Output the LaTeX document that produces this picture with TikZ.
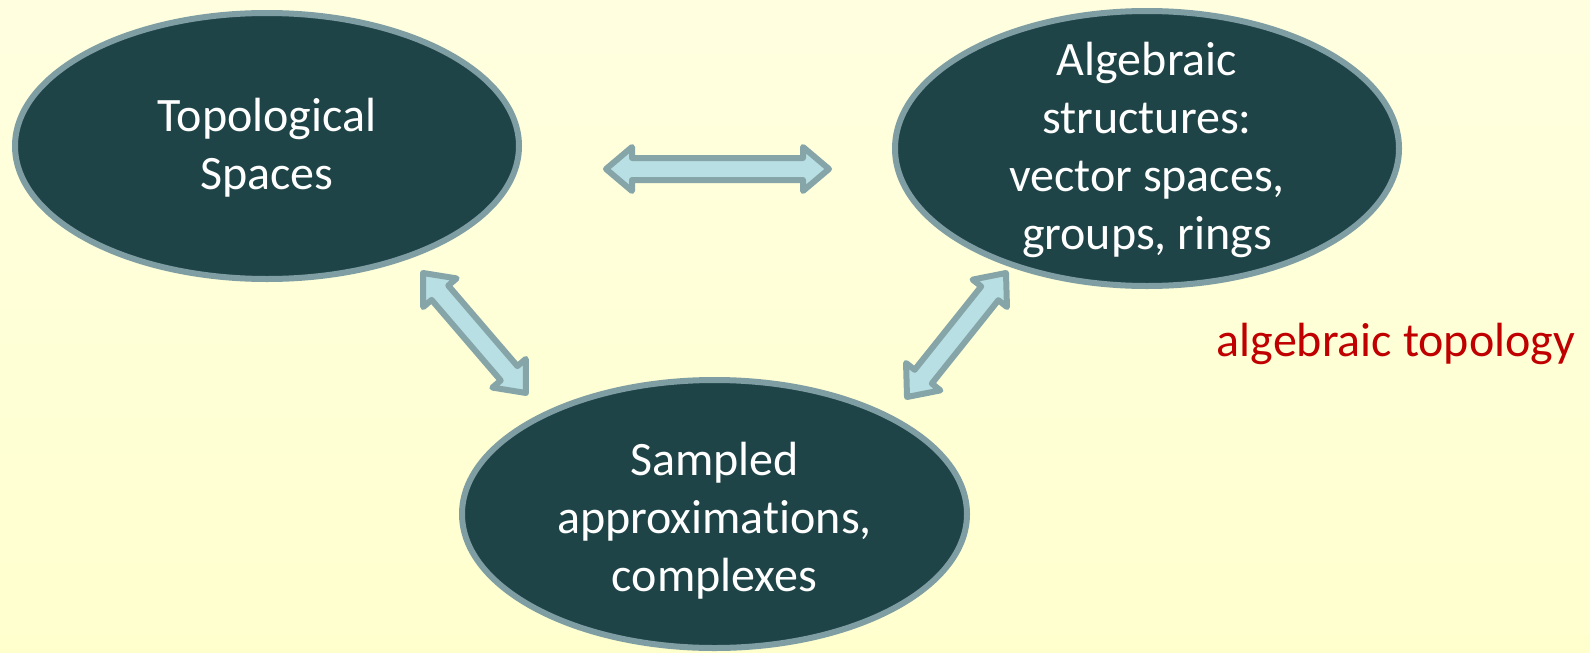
\documentclass[tikz,border=0pt]{standalone}
\usepackage{fontspec}
\setmainfont{Carlito}[Ligatures={NoCommon,NoRare,NoContextual},Contextuals=NoAlternate]
\usetikzlibrary{calc,shapes.geometric}
\definecolor{bgtop}{HTML}{FFFFE0}
\definecolor{bgbot}{HTML}{FFFFCE}
\definecolor{ellfill}{HTML}{1F4448}
\definecolor{elldraw}{HTML}{7F9EA3}
\definecolor{arrfill}{HTML}{B8DFE3}
\definecolor{arrdraw}{HTML}{86A5A9}
\definecolor{labred}{HTML}{C00000}
\newcommand\blockarrow[2]{%
  \draw[blockarrowstyle] let \p1=($(#2)-(#1)$), \n1={atan2(\y1,\x1)}, \n2={veclen(\x1,\y1)} in
    [shift={(#1)}, rotate=\n1]
    (0pt,0pt) -- (13pt,11pt) -- (13pt,5.5pt) -- ({\n2-13pt},5.5pt) -- ({\n2-13pt},11pt)
    -- (\n2,0pt) -- ({\n2-13pt},-11pt) -- ({\n2-13pt},-5.5pt) -- (13pt,-5.5pt) -- (13pt,-11pt) -- cycle;}
\begin{document}
\begin{tikzpicture}[x=0.5pt,y=-0.5pt,
  blob/.style={ellipse, draw=elldraw, fill=ellfill, line width=3pt, inner sep=-60pt},
  blobtext/.style={text=white, font=\fontsize{24}{29}\selectfont, align=center, inner sep=0pt},
  blockarrowstyle/.style={draw=arrdraw, fill=arrfill, line width=3pt, line join=round},
  note/.style={text=labred, font=\fontsize{24}{29}\selectfont, inner sep=0pt}]
\fill[top color=bgtop, bottom color=bgbot] (0,0) rectangle (1590,653);
\useasboundingbox (0,0) rectangle (1590,653);

\node[blob, minimum width=252pt, minimum height=133pt,
  label={[blobtext, yshift=-1pt]center:Topological\\Spaces}] (top) at (267,146) {};
\node[blob, minimum width=252pt, minimum height=137.5pt,
  label={[blobtext, yshift=-0.5pt]center:Algebraic\\structures:\\vector spaces,\\groups, rings}] (alg) at (1147,148.5) {};
\node[blob, minimum width=252.5pt, minimum height=134pt,
  label={[blobtext, yshift=-3.5pt]center:Sampled\\approximat\kern0pt ions,\\complexes}] (smp) at (714.5,514) {};

\node[note, anchor=base] (lab) at (1396,356) {algebraic topology};

\coordinate (h1) at (606,169);
\coordinate (h2) at (829,169);
\coordinate (d1a) at (423,273);
\coordinate (d1b) at (526,393);
\coordinate (d2a) at (1006,273);
\coordinate (d2b) at (907,397);

\blockarrow{h1}{h2}
\blockarrow{d1a}{d1b}
\blockarrow{d2a}{d2b}
\end{tikzpicture}
\end{document}
